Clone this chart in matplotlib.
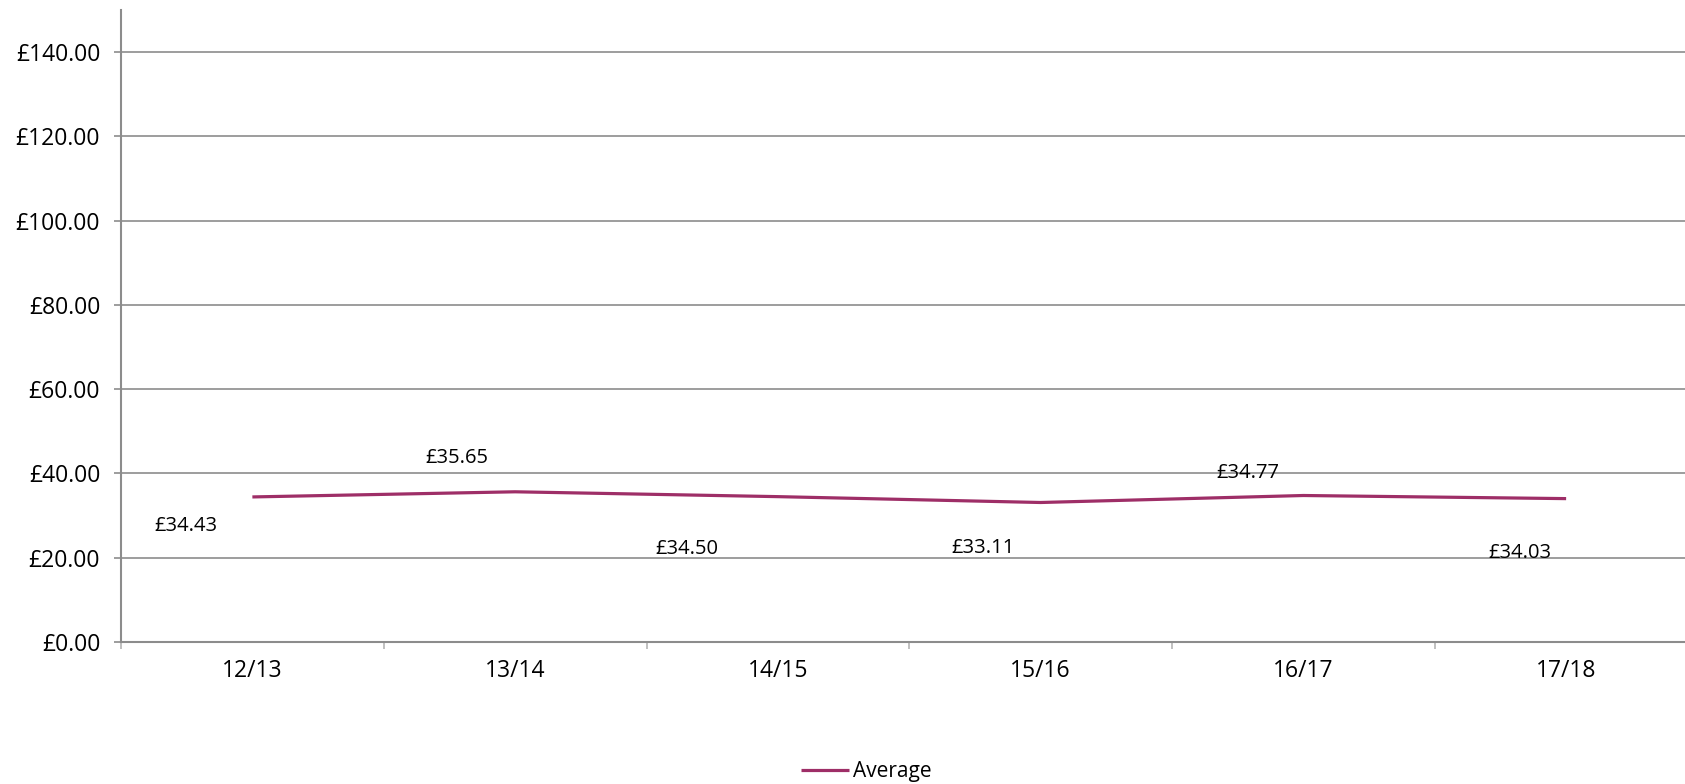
import matplotlib
matplotlib.use("Agg")
import matplotlib.pyplot as plt
import numpy as np

categories = ["12/13", "13/14", "14/15", "15/16", "16/17", "17/18"]
average = [34.43, 35.65, 34.50, 33.11, 34.77, 34.03]
series_name = "Average"
y_ticks = [0, 20, 40, 60, 80, 100, 120, 140]

# label offsets in pixels (dx, dy) relative to each point
label_offsets = [(-66, -29), (-58, 34), (-91, -52), (-58, -46), (-56, 23), (-46, -54)]

plt.rcParams['font.family'] = ['Open Sans', 'DejaVu Sans']

line_color = "#9E2E67"
grid_color = "#8C8C8C"

fig = plt.figure(figsize=(16.85, 7.84), dpi=100)
ax = fig.add_axes([121/1685, 1 - 642/784, 6*262.75/1685, 632/784])

x = np.arange(len(categories))
ax.plot(x, average, color=line_color, lw=2.3, solid_capstyle='butt', label=series_name, zorder=3)

for xi, v, (dx, dy) in zip(x, average, label_offsets):
    ax.annotate(f"£{v:.2f}", xy=(xi, v), xytext=(dx, dy), textcoords='offset pixels',
                ha='center', va='center', fontsize=14.5, color='black', zorder=4)

ax.set_xlim(-0.5, len(categories) - 0.5)
ax.set_ylim(0, 150)

ax.set_yticks(y_ticks)
ax.set_yticklabels([f"£{t:.2f}" for t in y_ticks], fontsize=16.5)
ax.yaxis.grid(True, color=grid_color, lw=1.2)
ax.set_axisbelow(True)

ax.set_xticks(np.arange(-0.5, len(categories), 1.0))
ax.set_xticklabels([])
ax.set_xticks(x, minor=True)
ax.set_xticklabels(categories, minor=True, fontsize=16.5)
ax.tick_params(axis='x', which='major', length=5, width=1.2, color='#B5B5B5', direction='out')
ax.tick_params(axis='x', which='minor', length=0, pad=12)
ax.tick_params(axis='y', length=5, width=1.2, color=grid_color, pad=10)

for s in ['top', 'right']:
    ax.spines[s].set_visible(False)
for s in ['left', 'bottom']:
    ax.spines[s].set_color(grid_color)
    ax.spines[s].set_linewidth(1.5)

fig.legend(loc='center', bbox_to_anchor=(866/1685, 1 - 772/784), frameon=False,
           fontsize=15, handlelength=2.3, handletextpad=0.2)

fig.savefig("out.png", dpi=100)
